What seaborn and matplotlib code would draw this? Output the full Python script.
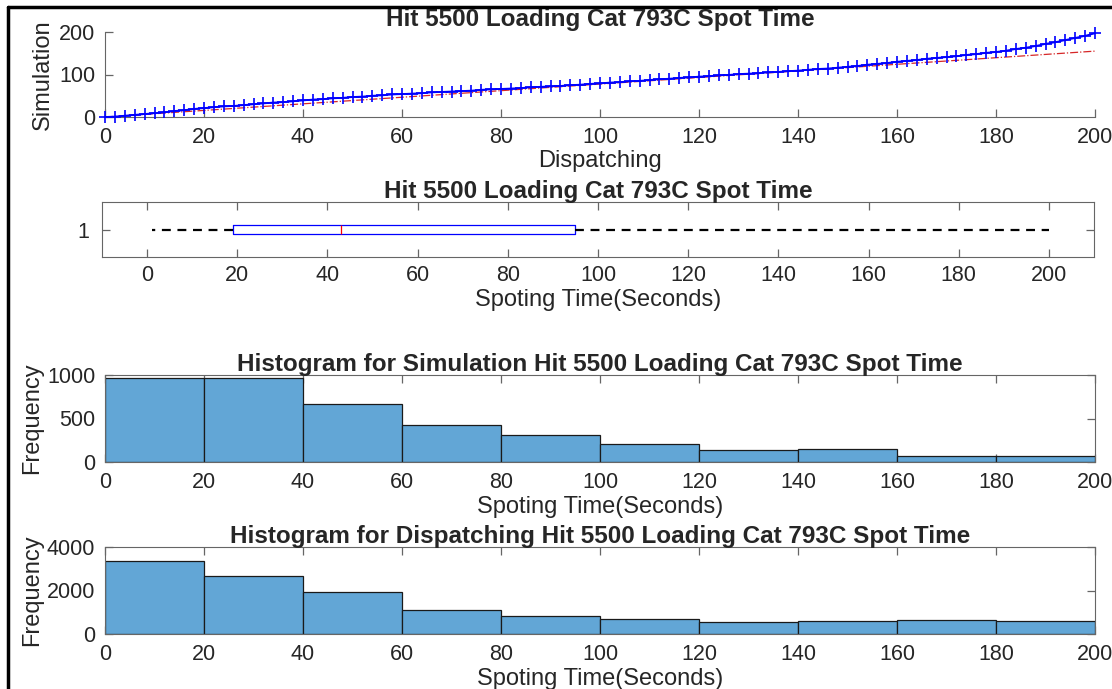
import matplotlib
matplotlib.use("Agg")
import matplotlib.pyplot as plt
from matplotlib.lines import Line2D
import seaborn as sns
import numpy as np

# quantile-quantile data
qq_dispatch = list(range(0, 201, 2))
qq_sim = [0, 1, 3, 5, 7, 9, 11, 14, 16, 19, 21, 23, 25, 26, 28, 30, 32, 34, 35, 37,
          39, 41, 42, 44, 45, 47, 48, 50, 51, 53, 54, 55, 56, 58, 59, 60, 61, 62, 64, 65,
          66, 67, 68, 70, 71, 72, 73, 75, 76, 78, 79, 81, 82, 84, 85, 87, 89, 90, 92, 93,
          95, 96, 98, 99, 101, 102, 103, 105, 106, 108, 109, 111, 113, 114, 116, 118, 120, 123, 125, 127,
          130, 132, 134, 137, 139, 141, 143, 146, 148, 151, 153, 156, 160, 163, 167, 172, 176, 181, 186, 191,
          197]
ref_x = [0, 200]
ref_y = [0, 155]

# box plot summary (min, q1, median, q3, max)
box_values = [1, 19, 43, 95, 200]

# histograms
bin_edges = [0, 20, 40, 60, 80, 100, 120, 140, 160, 180, 200]
sim_counts = [962, 960, 668, 429, 307, 207, 141, 149, 66, 66]
disp_counts = [3360, 2680, 1916, 1126, 807, 684, 550, 593, 640, 595]

title_main = "Hit 5500 Loading Cat 793C Spot Time"
xlabel_time = "Spoting Time(Seconds)"

sns.set_style("white")
plt.rcParams['font.family'] = ['Liberation Sans', 'DejaVu Sans']
plt.rcParams['axes.edgecolor'] = '#666666'
plt.rcParams['xtick.color'] = '#666666'
plt.rcParams['ytick.color'] = '#666666'
plt.rcParams['xtick.labelcolor'] = '#262626'
plt.rcParams['ytick.labelcolor'] = '#262626'

W, H = 1112, 689
fig = plt.figure(figsize=(W / 100, H / 100), dpi=100)
fig.patch.set_facecolor('white')

TICK_FS = 15.5
LABEL_FS = 17
TITLE_FS = 17.5


def px_axes(x0, y0, x1, y1):
    return fig.add_axes([x0 / W, 1 - y1 / H, (x1 - x0) / W, (y1 - y0) / H])


def style_ticks(ax, mirror, xpad=7, ypad=7):
    ax.tick_params(direction='in', length=6, width=0.9, labelsize=TICK_FS,
                   top=mirror, right=mirror, bottom=True, left=True)
    ax.tick_params(axis='x', pad=xpad)
    ax.tick_params(axis='y', pad=ypad)


xt = list(range(0, 201, 20))

# --- top: QQ plot
ax1 = px_axes(105, 32, 1095, 117)
sns.lineplot(x=ref_x, y=ref_y, ax=ax1, color='#d62728', linestyle='-.', linewidth=0.9)
sns.scatterplot(x=qq_dispatch, y=qq_sim, ax=ax1, marker='+', s=70, color='blue',
                linewidth=1.2, zorder=3, clip_on=False)
ax1.plot(qq_dispatch, qq_sim, color='blue', linewidth=1.3, zorder=3, clip_on=False)
ax1.set_xlim(0, 200)
ax1.set_ylim(0, 200)
ax1.set_xticks(xt)
ax1.set_yticks([0, 100, 200])
ax1.spines['top'].set_visible(False)
ax1.spines['right'].set_visible(False)
style_ticks(ax1, False)
ax1.set_xlabel("Dispatching", fontsize=LABEL_FS, labelpad=2)
ax1.set_ylabel("Simulation", fontsize=LABEL_FS, labelpad=4)
ax1.set_title(title_main, fontsize=TITLE_FS, fontweight='bold', pad=4)

# --- box plot
ax2 = px_axes(102, 202, 1094, 257)
sns.boxplot(x=box_values, orient='h', ax=ax2, width=0.16, whis=1.5, fill=False,
            linewidth=0.9,
            boxprops=dict(color='blue'),
            medianprops=dict(color='red'),
            whiskerprops=dict(color='black', linestyle=(0, (4, 3)), linewidth=1.6),
            capprops=dict(color='black', linewidth=0),
            showfliers=False)
ax2.set_xlim(-10, 210)
ax2.set_ylim(0.5, -0.5)
ax2.set_yticks([0])
ax2.set_yticklabels(['1'])
ax2.set_xticks(xt)
style_ticks(ax2, True, xpad=6, ypad=9)
ax2.set_xlabel(xlabel_time, fontsize=LABEL_FS, labelpad=2)
ax2.set_ylabel("")
ax2.set_title(title_main, fontsize=TITLE_FS, fontweight='bold', pad=3)

# --- histograms
hist_color = '#62a6d6'
centers = [(a + b) / 2 for a, b in zip(bin_edges[:-1], bin_edges[1:])]
for (y0, y1), counts, ymax, yt, ttl in [
        ((375, 462), sim_counts, 1000, [0, 500, 1000],
         "Histogram for Simulation Hit 5500 Loading Cat 793C Spot Time"),
        ((547, 634), disp_counts, 4000, [0, 2000, 4000],
         "Histogram for Dispatching Hit 5500 Loading Cat 793C Spot Time")]:
    ax = px_axes(105, y0, 1095, y1)
    sns.histplot(x=centers, weights=counts, bins=bin_edges, ax=ax, color=hist_color,
                 alpha=1, edgecolor='#1a1a1a', linewidth=0.9)
    ax.set_xlim(0, 200)
    ax.set_ylim(0, ymax)
    ax.set_xticks(xt)
    ax.set_yticks(yt)
    style_ticks(ax, True)
    ax.set_xlabel(xlabel_time, fontsize=LABEL_FS, labelpad=2)
    ax.set_ylabel("Frequency", fontsize=LABEL_FS, labelpad=3)
    ax.set_title(ttl, fontsize=TITLE_FS, fontweight='bold', pad=3)

# frame lines (top and left)
fig.add_artist(Line2D([8 / W, 1], [1 - 7 / H, 1 - 7 / H], color='black', linewidth=2.5))
fig.add_artist(Line2D([8 / W, 8 / W], [0, 1 - 7 / H], color='black', linewidth=2.5))

fig.savefig("out.png", dpi=100)
